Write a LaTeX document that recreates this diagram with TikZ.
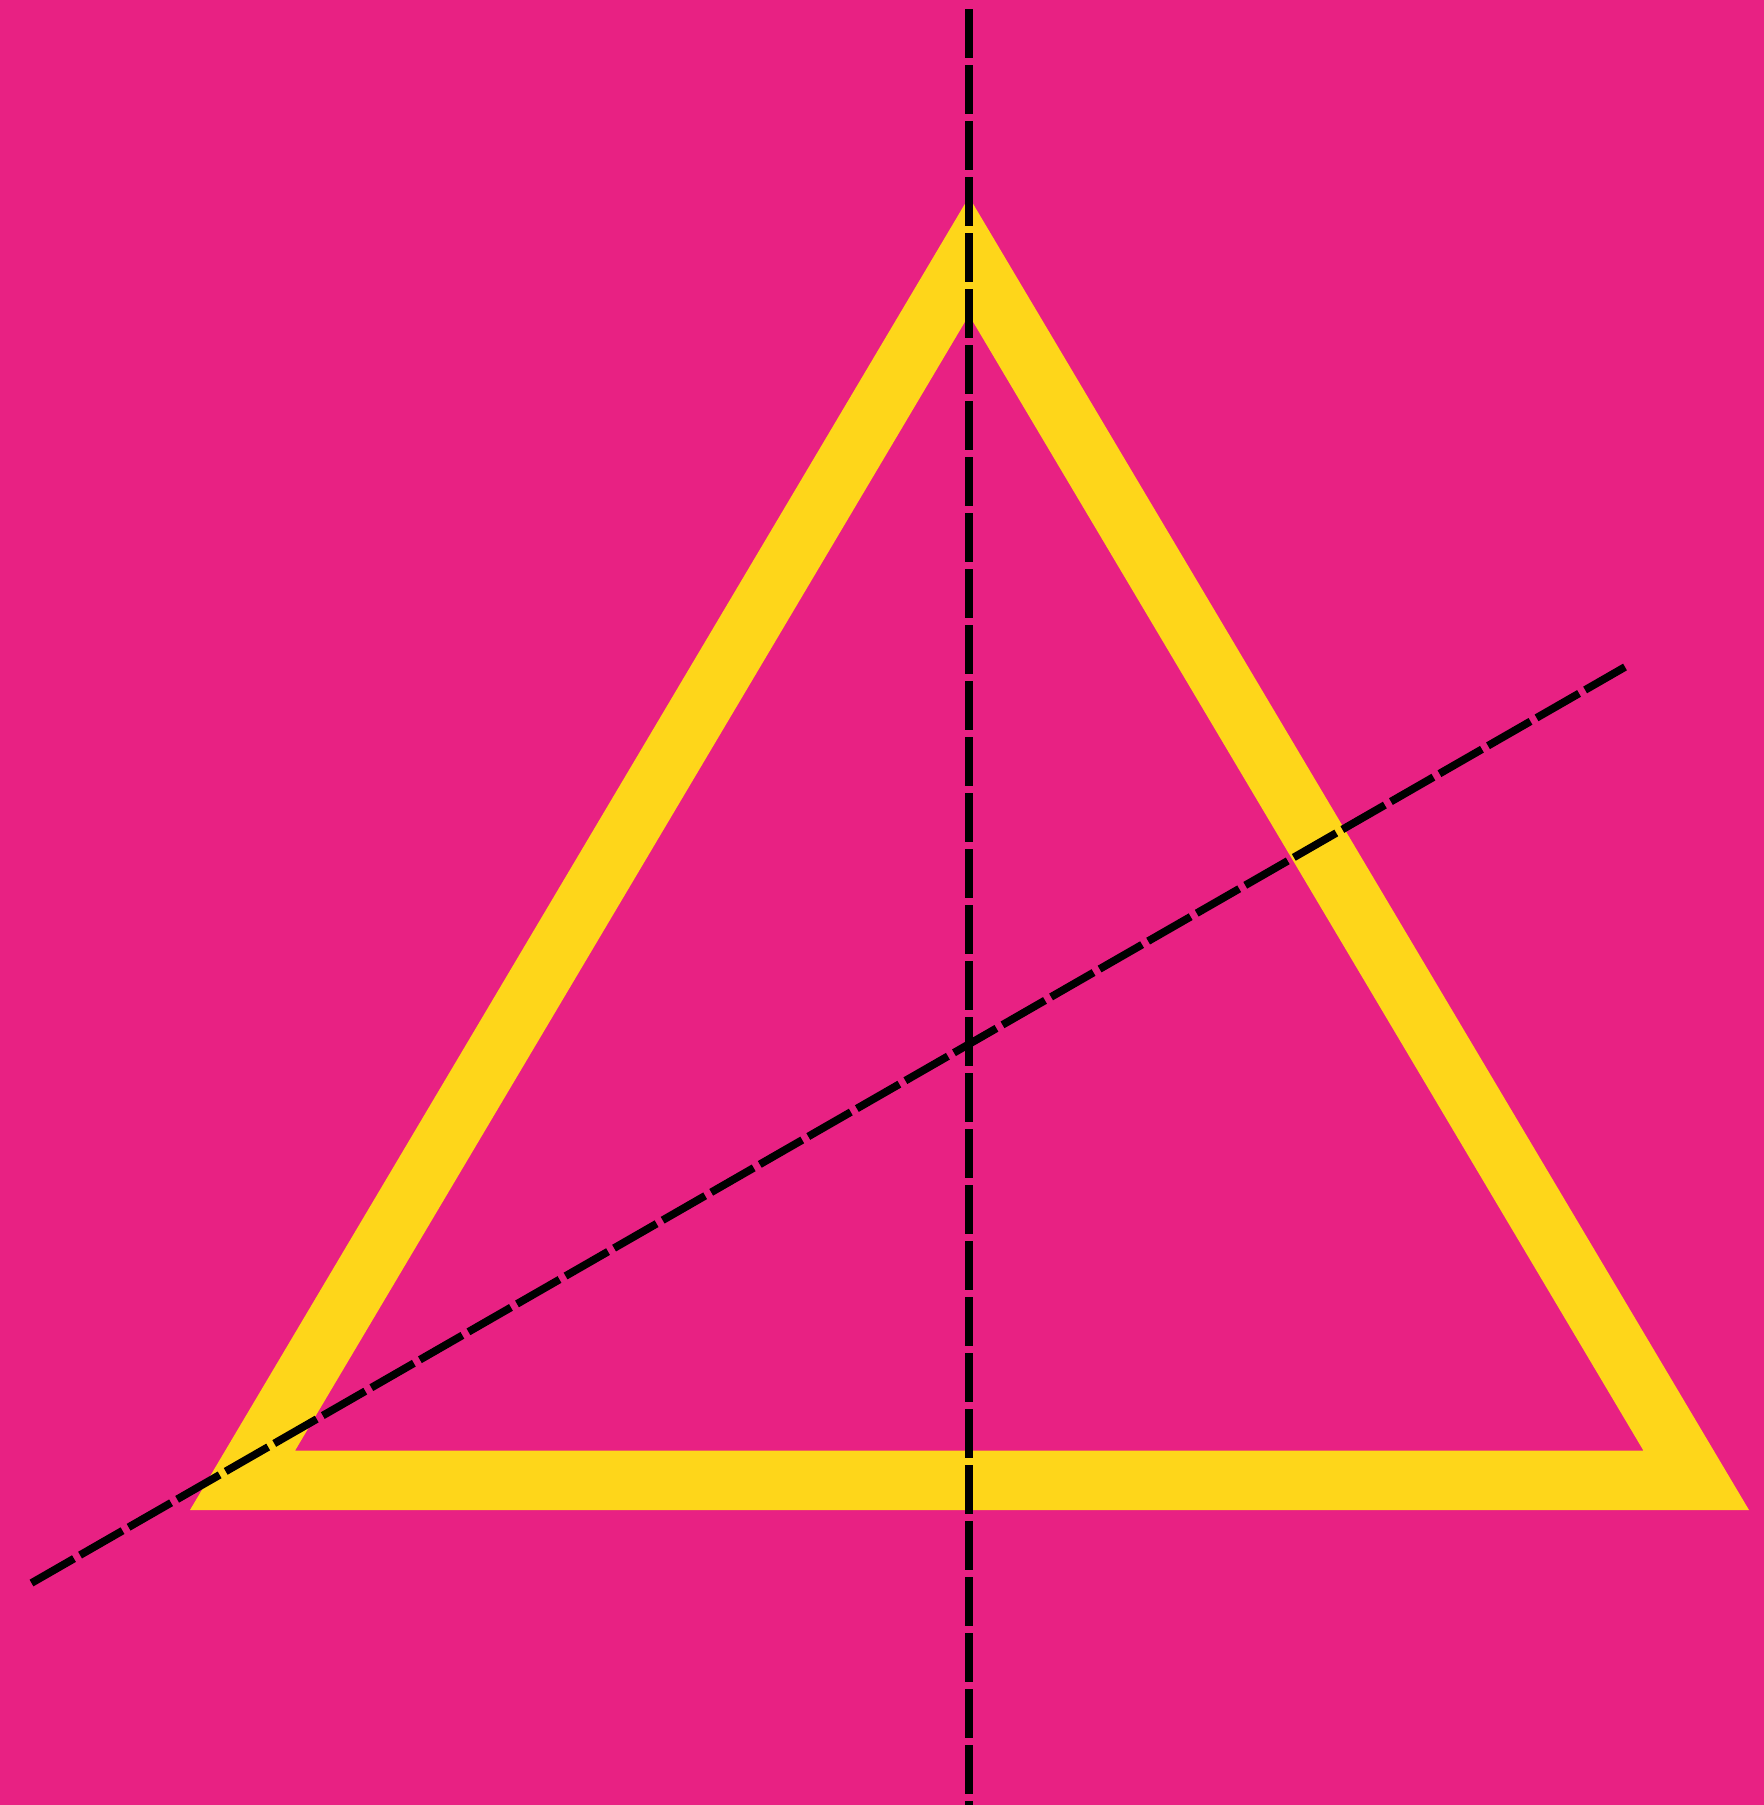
\documentclass[tikz,border=0pt]{standalone}
\definecolor{bgpink}{RGB}{232,33,131}
\definecolor{bandyellow}{RGB}{254,214,26}
\begin{document}
\begin{tikzpicture}[x=0.5pt,y=-0.5pt,
    axisline/.style={black,line width=3.85pt,dash pattern=on 24.5pt off 3.5pt}]
        % Draw background
        \fill[bgpink] (0,0) rectangle (1764,1805);
        \useasboundingbox (0,0) rectangle (1764,1805);
        % Corners of the triangle band
        \coordinate (outerL) at (190,1510);
        \coordinate (outerR) at (1749,1510);
        \coordinate (outerT) at (969,197);
        \coordinate (innerL) at (295,1450.7);
        \coordinate (innerR) at (1643.5,1450.7);
        \coordinate (innerT) at (969,315);
        % Draw yellow triangle band
        \fill[bandyellow,even odd rule] (outerL) -- (outerR) -- (outerT) -- cycle
            (innerL) -- (innerR) -- (innerT) -- cycle;
        % Draw vertical axis
        \coordinate (vtop) at (969,9);
        \coordinate (vbot) at (969,1805);
        \draw[axisline] (vtop) -- (vbot);
        % Draw slanted axis
        \coordinate (slow) at (31.5,1583);
        \coordinate (shigh) at (1625,667);
        \draw[axisline] (slow) -- (shigh);
    \end{tikzpicture}
\end{document}
